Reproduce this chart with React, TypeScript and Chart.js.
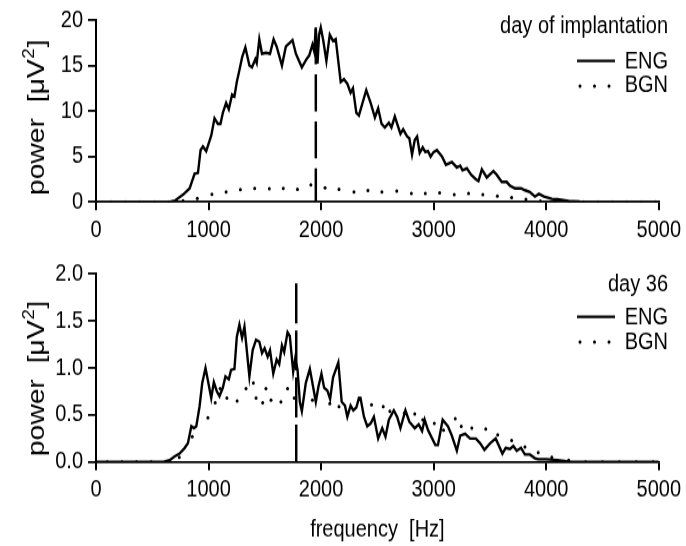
import React, { useEffect, useRef } from 'react';
import { Chart, registerables } from 'chart.js';
Chart.register(...registerables);

const FAM = '"Liberation Sans", Arial, sans-serif';
const FS = 20;
const YT_FS = 24;
const STRETCH = 1.18; // the figure is slightly stretched vertically

const freqTicks = [0, 1000, 2000, 3000, 4000, 5000];
const topYTicks = [0, 5, 10, 15, 20];
const botYTicks = [0, 0.5, 1.0, 1.5, 2.0];
const seriesNames = ['ENG', 'BGN'];
const topTitle = 'day of implantation';
const botTitle = 'day 36';
const yTitleParts = ['power  [μV', '2', ']'];
const xTitle = 'frequency  [Hz]';

const topEngF = [0, 600, 655, 700, 773, 832, 876, 906, 929, 950, 979, 1024, 1053, 1083, 1106, 1127, 1156, 1180, 1209, 1230, 1251, 1274, 1298, 1327, 1363, 1386, 1416, 1428, 1451, 1475, 1510, 1546, 1578, 1605, 1652, 1687, 1746, 1776, 1829, 1870, 1894, 1923, 1938, 1953, 1968, 1982, 1997, 2020, 2047, 2077, 2106, 2130, 2174, 2203, 2233, 2262, 2283, 2313, 2336, 2401, 2440, 2478, 2507, 2537, 2566, 2602, 2625, 2655, 2676, 2705, 2729, 2764, 2784, 2808, 2832, 2853, 2876, 2903, 2926, 2950, 2973, 3000, 3029, 3074, 3109, 3162, 3206, 3236, 3256, 3295, 3333, 3375, 3398, 3428, 3472, 3531, 3560, 3605, 3649, 3678, 3723, 3776, 3811, 3855, 3900, 3935, 3980, 4050, 4100, 4200, 4300, 4400, 5000];
const topEngV = [0, 0, 0.02, 0.14, 0.8, 1.5, 3.1, 3.2, 5.7, 6.1, 5.6, 7.3, 9.2, 8.6, 8.6, 9.8, 10.9, 10.2, 11.8, 11.6, 13.2, 14.5, 15.9, 17.0, 15.0, 14.8, 15.7, 15.3, 17.9, 16.3, 16.4, 16.3, 17.9, 17.1, 15.0, 17.1, 17.8, 16.3, 14.8, 15.7, 16.1, 17.3, 16.6, 19.1, 15.2, 18.4, 19.2, 17.7, 15.5, 18.4, 17.7, 17.9, 13.2, 13.5, 13.0, 12.0, 12.5, 9.8, 9.5, 12.3, 10.9, 9.3, 10.3, 8.6, 8.2, 8.7, 8.2, 9.4, 8.6, 7.5, 8.0, 7.2, 7.0, 5.2, 6.8, 7.2, 5.4, 6.0, 5.5, 5.6, 5.0, 5.5, 5.7, 5.0, 4.1, 4.4, 3.8, 4.0, 3.5, 3.7, 3.0, 2.5, 2.3, 3.6, 2.7, 3.4, 3.0, 2.2, 2.2, 1.8, 1.5, 1.5, 1.3, 1.1, 0.6, 0.9, 0.6, 0.35, 0.3, 0.1, 0.03, 0, 0];

const topBgnF = [5, 133, 261, 389, 517, 645, 773, 900, 1030, 1156, 1283, 1410, 1540, 1664, 1790, 1909, 2035, 2159, 2292, 2416, 2540, 2672, 2802, 2926, 3053, 3183, 3310, 3437, 3566, 3693, 3820, 3948, 4076, 4204, 4332, 4460, 4588, 4716, 4844, 4972];
const topBgnV = [0, 0, 0, 0, 0, 0, 0.14, 0.4, 0.86, 1.1, 1.36, 1.5, 1.48, 1.5, 1.39, 1.9, 1.57, 1.39, 1.1, 1.28, 1.1, 1.2, 0.93, 0.93, 1.0, 0.82, 0.93, 0.82, 0.64, 0.5, 0.29, 0.1, 0.03, 0, 0, 0, 0, 0, 0, 0];

const botEngF = [0, 600, 655, 699, 743, 788, 817, 847, 870, 891, 920, 944, 973, 994, 1024, 1047, 1074, 1097, 1127, 1150, 1180, 1200, 1230, 1251, 1274, 1298, 1319, 1363, 1392, 1422, 1451, 1475, 1498, 1525, 1546, 1575, 1605, 1628, 1652, 1672, 1702, 1722, 1752, 1770, 1791, 1811, 1829, 1864, 1900, 1929, 1953, 1976, 2003, 2027, 2056, 2080, 2106, 2153, 2183, 2212, 2233, 2262, 2286, 2313, 2336, 2350, 2381, 2410, 2440, 2469, 2507, 2543, 2572, 2602, 2646, 2676, 2705, 2749, 2784, 2832, 2867, 2897, 2920, 2950, 3015, 3038, 3080, 3127, 3162, 3206, 3236, 3280, 3324, 3375, 3413, 3451, 3502, 3551, 3611, 3640, 3678, 3708, 3738, 3776, 3811, 3855, 3900, 3929, 4000, 4100, 4200, 4300, 5000];
const botEngV = [0, 0, 0.02, 0.06, 0.09, 0.15, 0.2, 0.38, 0.36, 0.38, 0.59, 0.84, 1.0, 0.87, 0.68, 0.85, 0.75, 0.7, 0.79, 0.91, 0.88, 0.98, 0.99, 1.33, 1.46, 1.32, 1.44, 0.91, 1.19, 1.3, 1.28, 1.16, 1.21, 1.12, 1.19, 0.94, 1.09, 1.04, 1.24, 1.17, 1.38, 1.34, 0.96, 1.1, 0.98, 0.64, 0.54, 0.84, 0.99, 0.8, 0.64, 0.8, 0.94, 0.79, 0.76, 0.67, 0.9, 1.06, 0.64, 0.6, 0.48, 0.6, 0.55, 0.58, 0.68, 0.68, 0.48, 0.38, 0.41, 0.48, 0.25, 0.36, 0.27, 0.45, 0.55, 0.48, 0.36, 0.55, 0.43, 0.36, 0.4, 0.33, 0.45, 0.34, 0.18, 0.18, 0.45, 0.38, 0.28, 0.12, 0.28, 0.3, 0.25, 0.25, 0.2, 0.13, 0.2, 0.25, 0.09, 0.15, 0.14, 0.17, 0.12, 0.15, 0.08, 0.08, 0.04, 0.03, 0.03, 0.02, 0.005, 0, 0];

const botBgnF = [100, 230, 360, 490, 620, 740, 855, 994, 1059, 1103, 1163, 1254, 1333, 1398, 1422, 1481, 1510, 1555, 1643, 1702, 1761, 1923, 2077, 2159, 2448, 2552, 2611, 2740, 2832, 2903, 3006, 3088, 3192, 3245, 3339, 3463, 3569, 3693, 3811, 3929, 4050, 4200, 4350, 4500, 4650, 4800, 4950];
const botBgnV = [0, 0, 0, 0, 0, 0.05, 0.27, 0.47, 0.63, 0.78, 0.68, 0.65, 0.78, 0.84, 0.68, 0.63, 0.78, 0.66, 0.64, 0.78, 0.68, 0.66, 0.62, 0.59, 0.61, 0.59, 0.54, 0.52, 0.51, 0.45, 0.41, 0.34, 0.46, 0.38, 0.36, 0.35, 0.29, 0.23, 0.16, 0.1, 0.05, 0.02, 0, 0, 0, 0, 0];

const topMarkerF = 1953;
const topMarkerTop = 19.2;
const botMarkerF = 1779;
const botMarkerTop = 1.9;

const zip = (f: number[], v: number[]) => f.map((x, i) => ({ x, y: v[i] }));

interface PanelProps {
  height: number;
  areaTop: number;
  areaBottom: number;
  yMax: number;
  yTicks: number[];
  decimals: number;
  engF: number[]; engV: number[];
  bgnF: number[]; bgnV: number[];
  markerF: number; markerTop: number;
  dash: number[];
  title: string;
  legendY: number[];
  yTitleCenter: number;
  showXTitle: boolean;
  xTitleCenter: number;
}

function Panel(p: PanelProps) {
  const ref = useRef<HTMLCanvasElement | null>(null);
  const ih = Math.round(p.height / STRETCH);
  const sy = p.height / ih;
  useEffect(() => {
    if (!ref.current) return;
    const annot = {
      id: 'annot',
      afterDraw(chart: any) {
        const ctx = chart.ctx as CanvasRenderingContext2D;
        ctx.save();
        ctx.font = `${FS}px ${FAM}`;
        ctx.fillStyle = '#000';
        ctx.strokeStyle = '#000';
        ctx.textAlign = 'right';
        ctx.textBaseline = 'middle';
        const ly = p.legendY.map((v) => v / sy);
        ctx.fillText(p.title, 668, ly[0]);
        ctx.fillText(seriesNames[0], 668, ly[1]);
        ctx.fillText(seriesNames[1], 668, ly[2]);
        ctx.lineWidth = 2.2;
        ctx.beginPath();
        ctx.moveTo(577, ly[1] - 1);
        ctx.lineTo(615, ly[1] - 1);
        ctx.stroke();
        for (const x of [580, 594.5, 609]) {
          ctx.beginPath();
          ctx.arc(x, ly[2], 1.5, 0, Math.PI * 2);
          ctx.fill();
        }
        // y-axis title (rotated), with a raised superscript
        const mainFont = `${YT_FS}px ${FAM}`;
        const supFont = `${Math.round(YT_FS * 0.68)}px ${FAM}`;
        ctx.font = mainFont;
        const w0 = ctx.measureText(yTitleParts[0]).width;
        const w2 = ctx.measureText(yTitleParts[2]).width;
        ctx.font = supFont;
        const w1 = ctx.measureText(yTitleParts[1]).width;
        const total = w0 + w1 + w2;
        ctx.translate(44, p.yTitleCenter / sy);
        ctx.rotate(-Math.PI / 2);
        ctx.textAlign = 'left';
        ctx.textBaseline = 'alphabetic';
        let x = -total / 2;
        ctx.font = mainFont;
        ctx.fillText(yTitleParts[0], x, 0);
        x += w0;
        ctx.font = supFont;
        ctx.fillText(yTitleParts[1], x + 0.5, -YT_FS * 0.42);
        x += w1 + 1;
        ctx.font = mainFont;
        ctx.fillText(yTitleParts[2], x, 0);
        ctx.restore();
      },
    };
    const tickFont = { family: FAM, size: FS };
    const lh = FS * 1.2;
    const chart = new Chart(ref.current, {
      type: 'line',
      data: {
        datasets: [
          {
            label: seriesNames[1],
            data: zip(p.bgnF, p.bgnV),
            showLine: false,
            pointRadius: 1.5,
            pointBackgroundColor: '#000',
            pointBorderWidth: 0,
            borderColor: '#000',
          },
          {
            label: seriesNames[0],
            data: zip(p.engF, p.engV),
            borderColor: '#000',
            borderWidth: 2.4,
            pointRadius: 0,
            tension: 0,
            fill: false,
          },
          {
            label: 'marker',
            data: [{ x: p.markerF, y: p.markerTop }, { x: p.markerF, y: 0 }],
            borderColor: '#000',
            borderWidth: 2.5,
            borderDash: p.dash.map((d) => d / sy),
            borderCapStyle: 'butt',
            pointRadius: 0,
          },
        ],
      },
      options: {
        animation: false,
        responsive: false,
        devicePixelRatio: 1,
        parsing: false as any,
        layout: { padding: { top: p.areaTop / sy, right: 23, left: 0, bottom: 0 } },
        plugins: { legend: { display: false }, tooltip: { enabled: false }, title: { display: false } },
        scales: {
          x: {
            type: 'linear',
            min: 0,
            max: 5000,
            afterBuildTicks: (s: any) => { s.ticks = freqTicks.map((v) => ({ value: v })); },
            afterFit: (s: any) => { s.height = ih - p.areaBottom / sy; },
            ticks: {
              color: '#000',
              font: tickFont,
              padding: 5,
              maxRotation: 0,
              autoSkip: false,
              callback: (v: any) => String(v),
            },
            grid: { drawOnChartArea: false, drawTicks: true, tickLength: 7, color: '#000', lineWidth: 2 },
            border: { display: true, color: '#000', width: 1.8 },
            title: {
              display: p.showXTitle,
              text: xTitle,
              color: '#000',
              font: { family: FAM, size: FS },
              padding: { top: 0, bottom: Math.max(0, ih - p.xTitleCenter / sy - lh / 2) },
            },
          },
          y: {
            type: 'linear',
            min: 0,
            max: p.yMax,
            afterBuildTicks: (s: any) => { s.ticks = p.yTicks.map((v) => ({ value: v })); },
            afterFit: (s: any) => { s.width = 96; },
            ticks: {
              color: '#000',
              font: tickFont,
              padding: 5,
              callback: (v: any) => Number(v).toFixed(p.decimals),
            },
            grid: { drawOnChartArea: false, drawTicks: true, tickLength: 8, color: '#000', lineWidth: 1.8 },
            border: { display: true, color: '#000', width: 2 },
            title: { display: false },
          },
        },
      },
      plugins: [annot],
    });
    return () => chart.destroy();
  }, []);
  return <canvas ref={ref} width={686} height={ih} style={{ display: 'block', width: 686, height: p.height }} />;
}

export default function App() {
  return (
    <div style={{ position: 'absolute', left: 0, top: 0, width: 686, height: 546, background: '#fff' }}>
      <Panel
        height={250}
        areaTop={15}
        areaBottom={202}
        yMax={20}
        yTicks={topYTicks}
        decimals={0}
        engF={topEngF}
        engV={topEngV}
        bgnF={topBgnF}
        bgnV={topBgnV}
        markerF={topMarkerF}
        markerTop={topMarkerTop}
        dash={[37, 10]}
        title={topTitle}
        legendY={[27, 62, 86]}
        yTitleCenter={118}
        showXTitle={false}
        xTitleCenter={0}
      />
      <Panel
        height={296}
        areaTop={24}
        areaBottom={212}
        yMax={2}
        yTicks={botYTicks}
        decimals={1}
        engF={botEngF}
        engV={botEngV}
        bgnF={botBgnF}
        bgnV={botBgnV}
        markerF={botMarkerF}
        markerTop={botMarkerTop}
        dash={[40, 7]}
        title={botTitle}
        legendY={[35, 68, 92]}
        yTitleCenter={129}
        showXTitle={true}
        xTitleCenter={280}
      />
    </div>
  );
}
